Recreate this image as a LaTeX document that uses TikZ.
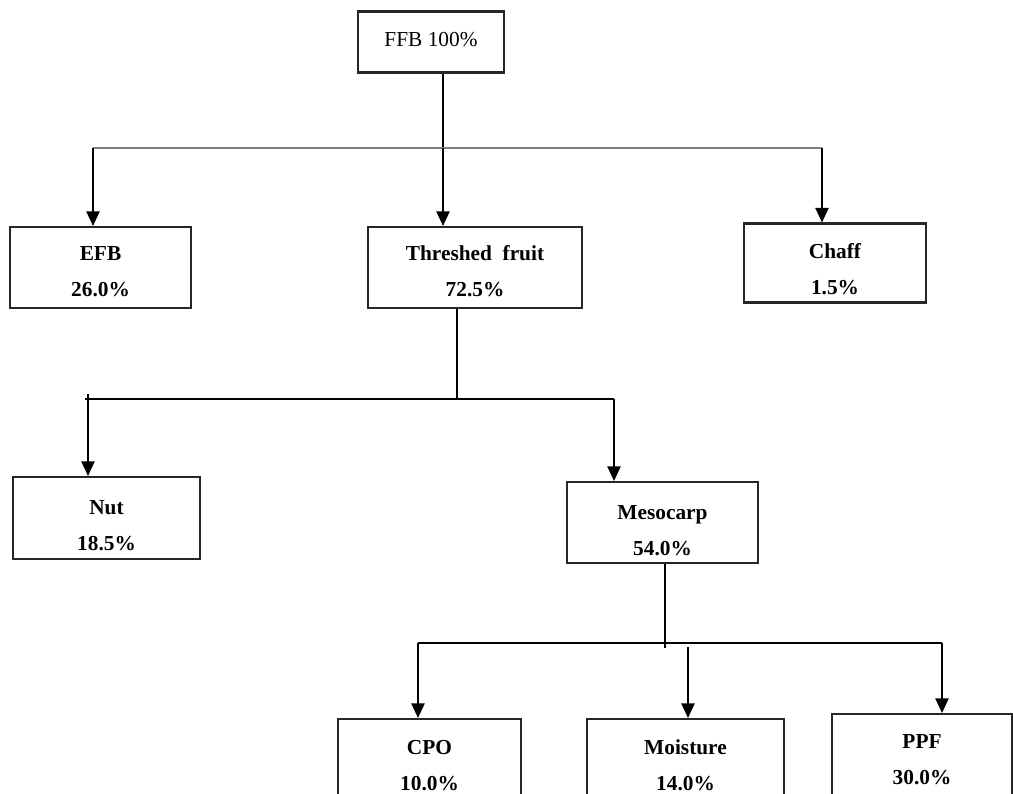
\documentclass[tikz,border=0pt]{standalone}
\usepackage{fontspec}
\setmainfont{Liberation Serif}
\usetikzlibrary{arrows.meta}
\begin{document}
\begin{tikzpicture}[x=0.75pt,y=-0.75pt,
 box/.style={draw=black!85, line width=1.6pt, align=center, inner sep=0pt, font=\fontsize{16}{27}\selectfont\bfseries},
 link/.style={line width=1.2pt},
 arr/.style={link, -{Triangle[length=11pt,width=10pt]}}]
\clip (0,0) rectangle (1013,793);
% boxes
\node[box, font=\fontsize{16}{20}\selectfont, minimum width=109.5pt, minimum height=45.75pt] (ffb) at (431,42) {FFB 100\%\rule[-4pt]{0pt}{4pt}};
\node[box, minimum width=135.75pt, minimum height=60.75pt] (efb) at (100.5,267.5) {\rule{0pt}{17pt}EFB\\26.0\%};
\node[box, minimum width=160.5pt, minimum height=60.75pt] (thr) at (475,267.5) {\rule{0pt}{17pt}Threshed\ \ fruit\\72.5\%};
\node[box, minimum width=136.5pt, minimum height=59.25pt] (chaff) at (835,263) {\rule{0pt}{20pt}Chaff\\1.5\%};
\node[box, minimum width=140.25pt, minimum height=61.5pt] (nut) at (106.5,518) {\rule{0pt}{21.5pt}Nut\\18.5\%};
\node[box, minimum width=143.25pt, minimum height=60.75pt] (meso) at (662.5,522.5) {\rule{0pt}{22pt}Mesocarp\\54.0\%};
\node[box, minimum width=137.25pt, minimum height=69.75pt] (cpo) at (429.5,765.5) {CPO\\10.0\%};
\node[box, minimum width=147.75pt, minimum height=69.75pt] (moist) at (685.5,765.5) {Moisture\\14.0\%};
\node[box, minimum width=135pt, minimum height=68.25pt] (ppf) at (922,759.5) {PPF\\30.0\%};
% level 1
\coordinate (j1) at (443,148);
\coordinate (a1) at (93,148);
\coordinate (a3) at (822,148);
\draw[link] (ffb.south -| j1) -- (j1);
\draw[gray, line width=2.2pt] (a1) -- (a3);
\draw[arr] (a1) -- (a1 |- efb.north);
\draw[arr] (j1) -- (j1 |- thr.north);
\draw[arr] (a3) -- (a3 |- chaff.north);
% level 2
\coordinate (j2) at (457,399);
\coordinate (b0) at (85,399);
\coordinate (b1) at (88,399);
\coordinate (b1t) at (88,394);
\coordinate (b2) at (614,399);
\draw[link] (thr.south -| j2) -- (j2);
\draw[link] (b0) -- (b2);
\draw[arr] (b1t) -- (b1 |- nut.north);
\draw[arr] (b2) -- (b2 |- meso.north);
% level 3
\coordinate (j3) at (665,643);
\coordinate (j3e) at (665,648);
\coordinate (c1) at (418,643);
\coordinate (c2) at (688,647);
\coordinate (c3) at (942,643);
\draw[link] (meso.south -| j3) -- (j3e);
\draw[link] (c1) -- (c3);
\draw[arr] (c1) -- (c1 |- cpo.north);
\draw[arr] (c2) -- (c2 |- moist.north);
\draw[arr] (c3) -- (c3 |- ppf.north);
\end{tikzpicture}
\end{document}
